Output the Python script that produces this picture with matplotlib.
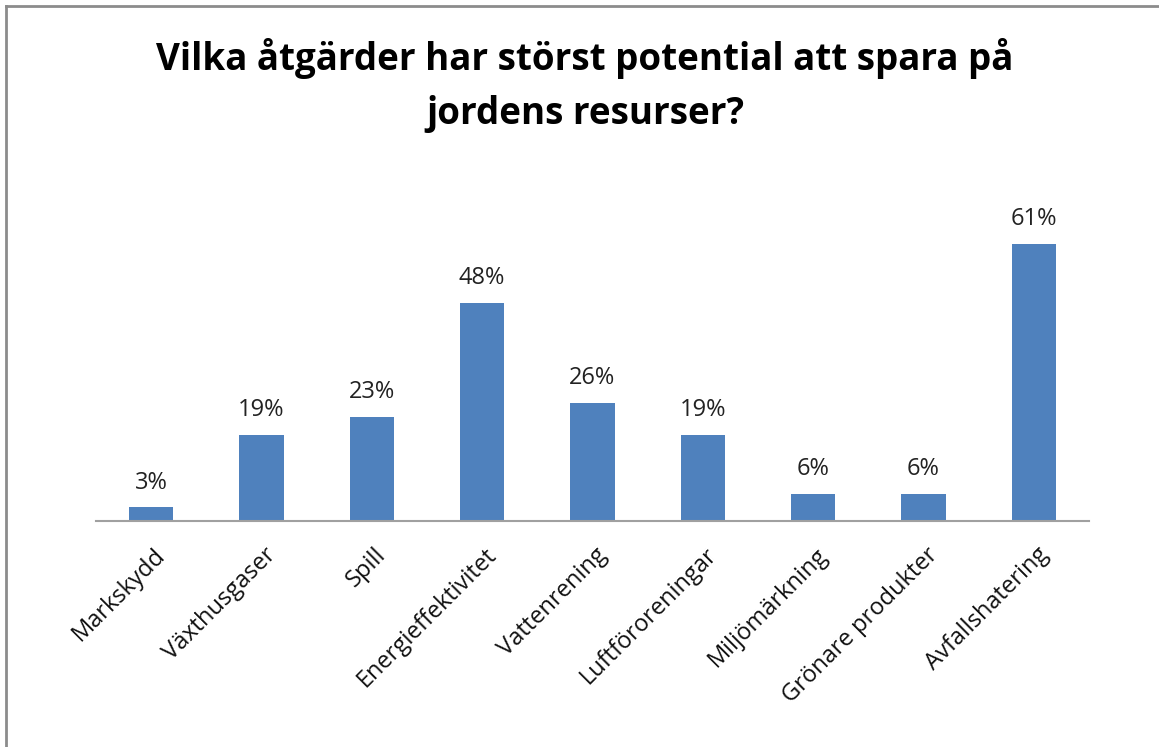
import matplotlib
matplotlib.use("Agg")
import matplotlib.pyplot as plt
from matplotlib.lines import Line2D
import matplotlib.transforms as mtransforms

categories = ["Markskydd", "Växthusgaser", "Spill", "Energieffektivitet", "Vattenrening",
              "Luftföroreningar", "Miljömärkning", "Grönare produkter", "Avfallshatering"]
values = [3, 19, 23, 48, 26, 19, 6, 6, 61]
title = "Vilka åtgärder har störst potential att spara på\njordens resurser?"

plt.rcParams['font.family'] = ['Open Sans', 'DejaVu Sans']

W, H = 1159, 747
fig = plt.figure(figsize=(W / 100, H / 100), dpi=100)
ax = fig.add_axes([96 / W, 1 - 521 / H, 993 / W, (521 - 203) / H])

x = list(range(len(categories)))
bars = ax.bar(x, values, width=0.4, color="#4F81BD")
ax.set_xlim(-0.5, len(categories) - 0.5)
ax.set_ylim(0, 70)
for xi, v in zip(x, values):
    ax.annotate(f"{v}%", (xi, v), xytext=(0, 9), textcoords="offset points",
                ha="center", va="bottom", fontsize=17, color="#222222")

ax.set_xticks(x)
ax.set_xticklabels(categories, rotation=45, ha="right", va="center",
                   rotation_mode="anchor", fontsize=17, color="#111111")
ax.tick_params(axis="x", length=0, pad=22)
offset = mtransforms.ScaledTranslation(11 / 100, 0, fig.dpi_scale_trans)
for lbl in ax.get_xticklabels():
    lbl.set_transform(lbl.get_transform() + offset)
ax.set_yticks([])
for s in ["top", "right", "left"]:
    ax.spines[s].set_visible(False)
ax.spines["bottom"].set_color("#A0A0A0")
ax.spines["bottom"].set_linewidth(1.5)

fig.text(585 / W, 1 - 38 / H, title, ha="center", va="top", fontsize=26.5,
         fontweight="bold", linespacing=1.55, color="black")

# outer chart border (top and left visible)
fig.add_artist(Line2D([6 / W, 1], [1 - 6 / H, 1 - 6 / H], color="#8C8C8C", lw=2))
fig.add_artist(Line2D([6 / W, 6 / W], [0, 1 - 6 / H], color="#8C8C8C", lw=2))

fig.savefig("out.png", dpi=100, facecolor="white")
